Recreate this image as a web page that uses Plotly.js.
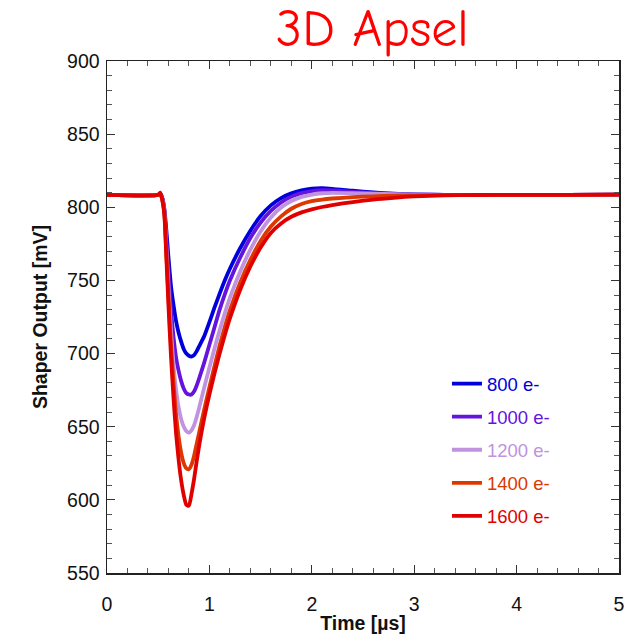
<!DOCTYPE html>
<html>
<head>
<meta charset="utf-8">
<script src="https://cdn.plot.ly/plotly-3.0.1.min.js"></script>
<style>
  html, body { margin: 0; padding: 0; background: #fff; }
  #chart { width: 632px; height: 634px; }
</style>
</head>
<body>
<div id="chart"></div>
<script>
// Sample times in microseconds
const timeUs = [0, 0.50, 0.52, 0.54, 0.56, 0.58, 0.60, 0.625, 0.65, 0.675, 0.70, 0.725, 0.75, 0.775, 0.80,
  0.825, 0.85, 0.875, 0.90, 0.95, 1.00, 1.05, 1.10, 1.15, 1.20, 1.30, 1.40, 1.50, 1.60, 1.70, 1.80, 1.90,
  2.00, 2.10, 2.20, 2.40, 2.60, 2.80, 3.00, 3.30, 3.60, 4.00, 4.50, 5.00];

// Shaper output (mV) for each injected charge
const out800 = [808.5, 808.5, 809.3, 806.5, 799, 784, 766, 746, 733, 722, 714, 708, 703, 700, 698.5,
  698, 699, 701.5, 705, 712, 721.5, 731.5, 741, 750, 758, 772, 784, 794, 801.3, 806.3, 809.5, 811.5,
  812.7, 813, 812.6, 811.3, 810.1, 809.3, 808.8, 808.5, 808.4, 808.5, 808.5, 808.6];
const out1000 = [808.5, 808.5, 809.3, 806, 798, 778, 756, 730, 711, 697, 688, 681, 676, 673, 672,
  672, 674, 678, 683, 694, 706, 718, 730, 740.5, 750, 765.5, 779, 789.5, 797.5, 803.3, 807.3, 809.7,
  811.1, 811.7, 811.6, 810.6, 809.7, 809.1, 808.7, 808.5, 808.4, 808.5, 808.5, 808.6];
const out1200 = [808.5, 808.5, 809.4, 805.5, 797, 772, 746, 716, 692, 675, 663, 655, 650, 647, 646,
  647.5, 651, 656.5, 663, 677, 690.5, 703.5, 716, 727.5, 738, 756, 771, 783.5, 793, 799.8, 804.3, 807.1,
  808.7, 809.6, 809.9, 809.7, 809.3, 808.9, 808.7, 808.5, 808.4, 808.5, 808.5, 808.6];
const out1400 = [808.5, 808.5, 809.6, 805, 796, 768, 740, 706, 680, 658, 643, 632, 625, 621.5, 621,
  624, 630, 638, 646, 662, 677, 691.5, 705.5, 718, 729.5, 748.5, 764, 777, 786.8, 793.8, 799, 802.3,
  804.2, 805.3, 806, 806.9, 807.5, 807.9, 808.2, 808.4, 808.5, 808.5, 808.5, 808.6];
const out1600 = [808.5, 808.5, 810, 805, 795, 765, 733, 698, 669, 645, 627, 613, 603, 596.5, 596,
  604, 614, 626, 637, 656, 672, 686.5, 700, 712.5, 724, 743.5, 759.5, 772.5, 782.5, 789, 793.5, 796.5,
  798.6, 800.2, 801.5, 803.6, 805.3, 806.5, 807.4, 808.1, 808.4, 808.5, 808.5, 808.6];

const seriesLabels = ['800 e-', '1000 e-', '1200 e-', '1400 e-', '1600 e-'];
const seriesValues = [out800, out1000, out1200, out1400, out1600];
const seriesColors = ['#0000dc', '#6414dc', '#c092e0', '#dc3800', '#e00000'];

const traces = seriesValues.map((vals, i) => ({
  x: timeUs,
  y: vals,
  type: 'scatter',
  mode: 'lines',
  name: '<span style="color:' + seriesColors[i] + '">' + seriesLabels[i] + '</span>',
  legendgroup: 'g' + i,
  line: { color: seriesColors[i], width: 3.8, shape: 'spline', smoothing: 0.6 }
}));

const tickFont = { family: 'Liberation Sans, Arial, sans-serif', size: 19.5, color: '#111' };
const titleFont = { family: 'Liberation Sans, Arial, sans-serif', size: 19.5, color: '#111', weight: 'bold' };

const axisCommon = {
  showgrid: false,
  zeroline: false,
  showline: true,
  linecolor: '#222',
  linewidth: 1.5,
  mirror: 'allticks',
  ticks: 'inside',
  ticklen: 8,
  tickwidth: 1.2,
  tickcolor: '#333',
  tickfont: tickFont
};

const layout = {
  width: 632,
  height: 634,
  margin: { l: 107, r: 13, t: 61, b: 61 },
  paper_bgcolor: '#fff',
  plot_bgcolor: '#fff',
  title: {
    text: '3D Apsel',
    font: { family: 'Comic Sans MS, Comic Neue, DejaVu Sans, cursive', size: 52, color: '#ff0000' },
    x: 0.589, xref: 'container', xanchor: 'center',
    y: 0.956, yref: 'container', yanchor: 'middle'
  },
  xaxis: Object.assign({}, axisCommon, {
    range: [0, 5],
    dtick: 1,
    tick0: 0,
    ticklabelstandoff: 13,
    minor: { dtick: 0.2, ticks: 'inside', ticklen: 5, tickcolor: '#555', tickwidth: 1 },
    title: { text: 'Time [µs]', font: titleFont, standoff: 3 }
  }),
  yaxis: Object.assign({}, axisCommon, {
    range: [550, 900],
    dtick: 50,
    tick0: 550,
    ticklabelstandoff: 2,
    minor: { dtick: 10, ticks: 'inside', ticklen: 5, tickcolor: '#555', tickwidth: 1 },
    title: { text: 'Shaper Output [mV]', font: titleFont, standoff: 14 }
  }),
  showlegend: true,
  legend: {
    x: 0.664, xanchor: 'left',
    y: 0.406, yanchor: 'top',
    bgcolor: 'rgba(0,0,0,0)',
    borderwidth: 0,
    tracegroupgap: 6,
    font: { family: 'Liberation Sans, Arial, sans-serif', size: 18.5 }
  }
};

Plotly.newPlot('chart', traces, layout, { displayModeBar: false, staticPlot: true });
</script>
</body>
</html>
